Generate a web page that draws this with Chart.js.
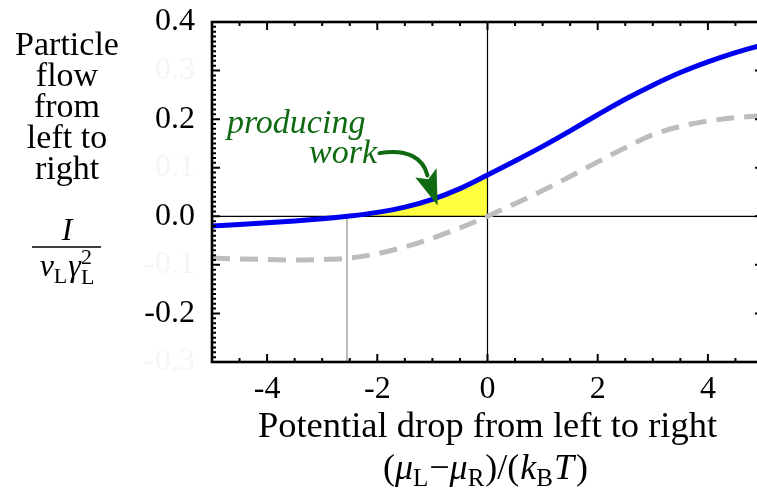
<!DOCTYPE html>
<html>
<head>
<meta charset="utf-8">
<script src="https://cdn.jsdelivr.net/npm/chart.js@4/dist/chart.umd.min.js"></script>
<style>
  html, body { margin: 0; padding: 0; background: #fff; overflow: hidden; }
  #wrap { width: 757px; height: 488px; overflow: hidden; position: relative; }
  canvas { display: block; }
</style>
</head>
<body>
<div id="wrap"><canvas id="c" width="765" height="488"></canvas></div>
<script>
// ---------------- data ----------------
const xValues        = [-5, -4.5, -4, -3.5, -3, -2.5, -2, -1.5, -1, -0.5, 0, 0.5, 1, 1.5, 2, 2.5, 3, 3.5, 4, 4.5, 5];
const flowValues     = [-0.020, -0.017, -0.0135, -0.0095, -0.005, 0.0005, 0.008, 0.019, 0.035, 0.057, 0.085, 0.114, 0.144, 0.176, 0.209, 0.241, 0.270, 0.296, 0.318, 0.337, 0.353];
const referenceValues= [-0.086, -0.088, -0.089, -0.090, -0.089, -0.086, -0.077, -0.063, -0.045, -0.024, 0.000, 0.026, 0.053, 0.082, 0.112, 0.141, 0.168, 0.185, 0.196, 0.203, 0.207];
const zeroCrossing   = -2.55;
const xTickValues    = [-4, -2, 0, 2, 4];
const xTickLabels    = ['-4', '-2', '0', '2', '4'];
const yTickValues    = [-0.3, -0.2, -0.1, 0, 0.1, 0.2, 0.3, 0.4];
const yTickLabels    = ['-0.3', '-0.2', '-0.1', '0.0', '0.1', '0.2', '0.3', '0.4'];
const yTickVisible   = [false, true, false, true, false, true, false, true];
const yTitleLines    = ['Particle', 'flow', 'from', 'left to', 'right'];
const xTitle         = 'Potential drop from left to right';
const noteLines      = ['producing', 'work'];
// annotation anchors in data units
const noteAnchors    = [{x: -4.73, y: 0.171}, {x: -3.24, y: 0.109}];
const arrowPath      = {start: {x: -1.96, y: 0.130}, c1: {x: -1.45, y: 0.140}, c2: {x: -1.16, y: 0.119}, end: {x: -1.09, y: 0.084}};
const arrowHead      = {tip: {x: -0.905, y: 0.022}, left: {x: -1.31, y: 0.080}, right: {x: -0.925, y: 0.099}};

// ---------------- build ----------------
const flowPts = xValues.map((x, i) => ({x, y: flowValues[i]}));
const refPts  = xValues.map((x, i) => ({x, y: referenceValues[i]}));
const workPts = [{x: zeroCrossing, y: 0}].concat(flowPts.filter(p => p.x > zeroCrossing && p.x <= 0));

const SERIF = '"Liberation Serif", "Times New Roman", serif';
const GREEN = '#0f6a12';

function drawRuns(ctx, runs, cx, base) {
  let w = 0;
  runs.forEach(r => { ctx.font = r.f; r.w = ctx.measureText(r.t).width; if (!r.stack) w += r.w + (r.sp || 0); });
  let x = cx - w / 2;
  ctx.textAlign = 'left'; ctx.textBaseline = 'alphabetic';
  runs.forEach(r => {
    ctx.font = r.f;
    ctx.fillText(r.t, x, base + (r.dy || 0));
    if (!r.stack) x += r.w + (r.sp || 0);
  });
}

const decor = {
  id: 'decor',
  beforeDatasetDraw(chart, args) {
    if (args.index !== 1) return;
    const {ctx, chartArea: a, scales: {x, y}} = chart;
    ctx.save();
    ctx.lineWidth = 1.2;
    ctx.strokeStyle = '#000';
    const y0 = y.getPixelForValue(0), x0 = x.getPixelForValue(0);
    ctx.beginPath(); ctx.moveTo(a.left, y0); ctx.lineTo(a.right, y0); ctx.stroke();
    ctx.beginPath(); ctx.moveTo(x0, a.top); ctx.lineTo(x0, a.bottom); ctx.stroke();
    ctx.strokeStyle = '#aaaaaa'; ctx.lineWidth = 1.6;
    const xc = x.getPixelForValue(zeroCrossing);
    ctx.beginPath(); ctx.moveTo(xc, y0); ctx.lineTo(xc, a.bottom); ctx.stroke();
    ctx.restore();
  },
  afterDraw(chart) {
    const {ctx, chartArea: a, scales: {x, y}} = chart;
    ctx.save();
    // frame
    ctx.strokeStyle = '#000'; ctx.lineWidth = 2.6;
    ctx.strokeRect(a.left, a.top, a.right - a.left, a.bottom - a.top);
    // ticks
    ctx.lineWidth = 2;
    for (let k = -30; k <= 40; k++) {
      const v = k / 100, py = y.getPixelForValue(v);
      const len = (k % 10 === 0) ? 8 : 4;
      ctx.beginPath();
      ctx.moveTo(a.left, py); ctx.lineTo(a.left + len, py);
      ctx.moveTo(a.right, py); ctx.lineTo(a.right - len, py);
      ctx.stroke();
    }
    for (let k = -10; k <= 10; k++) {
      const v = k / 2, px = x.getPixelForValue(v);
      const len = (k % 4 === 0) ? 8 : 4;
      ctx.beginPath();
      ctx.moveTo(px, a.bottom); ctx.lineTo(px, a.bottom - len);
      ctx.moveTo(px, a.top); ctx.lineTo(px, a.top + len);
      ctx.stroke();
    }
    // left title
    ctx.fillStyle = '#000';
    ctx.textAlign = 'center'; ctx.textBaseline = 'alphabetic';
    ctx.font = '34px ' + SERIF;
    yTitleLines.forEach((t, i) => ctx.fillText(t, 67, 55 + i * 31));
    // fraction I / (nu_L gamma_L^2)
    drawRuns(ctx, [{t: 'I', f: 'italic 32px ' + SERIF}], 67, 240);
    ctx.lineWidth = 1.5;
    ctx.beginPath(); ctx.moveTo(32, 247); ctx.lineTo(101, 247); ctx.stroke();
    drawRuns(ctx, [
      {t: '\u03BD', f: 'italic 32px ' + SERIF},
      {t: 'L', f: '22px ' + SERIF, dy: 7, sp: 1},
      {t: '\u03B3', f: 'italic 32px ' + SERIF},
      {t: '2', f: '22px ' + SERIF, dy: -12, stack: true},
      {t: 'L', f: '22px ' + SERIF, dy: 8}
    ], 67, 276);
    // x title
    ctx.font = '36.5px ' + SERIF;
    ctx.textAlign = 'center';
    ctx.fillText(xTitle, x.getPixelForValue(0), 437);
    drawRuns(ctx, [
      {t: '(', f: '36px ' + SERIF},
      {t: '\u03BC', f: 'italic 36px ' + SERIF},
      {t: 'L', f: '25px ' + SERIF, dy: 7, sp: 1},
      {t: '\u2212', f: '36px ' + SERIF},
      {t: '\u03BC', f: 'italic 36px ' + SERIF},
      {t: 'R', f: '25px ' + SERIF, dy: 7, sp: 1},
      {t: ')/(', f: '36px ' + SERIF, sp: 1},
      {t: 'k', f: 'italic 36px ' + SERIF},
      {t: 'B', f: '25px ' + SERIF, dy: 7, sp: 1},
      {t: 'T', f: 'italic 36px ' + SERIF, sp: 2},
      {t: ')', f: '36px ' + SERIF}
    ], x.getPixelForValue(0) - 2, 479);
    // annotation
    ctx.fillStyle = GREEN; ctx.strokeStyle = GREEN;
    ctx.font = 'italic 34px ' + SERIF; ctx.textAlign = 'left';
    noteLines.forEach((t, i) => ctx.fillText(t, x.getPixelForValue(noteAnchors[i].x), y.getPixelForValue(noteAnchors[i].y)));
    const P = p => [x.getPixelForValue(p.x), y.getPixelForValue(p.y)];
    const [sx, sy] = P(arrowPath.start), [c1x, c1y] = P(arrowPath.c1), [c2x, c2y] = P(arrowPath.c2), [ex, ey] = P(arrowPath.end);
    ctx.lineWidth = 4; ctx.lineCap = 'round';
    ctx.beginPath(); ctx.moveTo(sx, sy); ctx.bezierCurveTo(c1x, c1y, c2x, c2y, ex, ey); ctx.stroke();
    const [tx, ty] = P(arrowHead.tip), [lx, ly] = P(arrowHead.left), [rx, ry] = P(arrowHead.right);
    const nx = (lx + rx) / 2 + (tx - (lx + rx) / 2) * 0.2, ny = (ly + ry) / 2 + (ty - (ly + ry) / 2) * 0.2;
    ctx.beginPath(); ctx.moveTo(tx, ty); ctx.lineTo(lx, ly); ctx.lineTo(nx, ny); ctx.lineTo(rx, ry); ctx.closePath(); ctx.fill();
    ctx.restore();
  }
};

new Chart(document.getElementById('c'), {
  type: 'line',
  data: {
    datasets: [
      {label: 'flow', data: flowPts, borderColor: '#0000f0', borderWidth: 5, pointRadius: 0, cubicInterpolationMode: 'monotone', fill: false},
      {label: 'reference', data: refPts, borderColor: '#bdbdbd', borderWidth: 5, borderDash: [18, 10], pointRadius: 0, cubicInterpolationMode: 'monotone', fill: false},
      {label: 'work', data: workPts, borderWidth: 0, borderColor: 'rgba(0,0,0,0)', backgroundColor: '#ffff40', pointRadius: 0, cubicInterpolationMode: 'monotone', fill: 'origin'}
    ]
  },
  options: {
    responsive: false,
    animation: false,
    events: [],
    layout: {padding: {top: 22, right: 2, left: 0, bottom: 0}},
    plugins: {legend: {display: false}, tooltip: {enabled: false}},
    scales: {
      x: {
        type: 'linear', min: -5, max: 5,
        afterBuildTicks: s => { s.ticks = xTickValues.map(v => ({value: v})); },
        afterFit: s => { s.height = 126; s.paddingLeft = 0; s.paddingRight = 0; },
        grid: {display: false, drawTicks: false}, border: {display: false},
        ticks: {padding: 8, color: '#000', font: {family: SERIF, size: 32}, maxRotation: 0, autoSkip: false,
          callback: v => { const i = xTickValues.indexOf(v); return i >= 0 ? xTickLabels[i] : ''; }}
      },
      y: {
        type: 'linear', min: -0.3, max: 0.4,
        afterBuildTicks: s => { s.ticks = yTickValues.map(v => ({value: v})); },
        afterFit: s => { s.width = 212; s.paddingTop = 0; s.paddingBottom = 0; },
        grid: {display: false, drawTicks: false}, border: {display: false},
        ticks: {padding: 17, font: {family: SERIF, size: 32}, autoSkip: false,
          color: c => { const i = yTickValues.findIndex(v => Math.abs(v - c.tick.value) < 1e-9); return yTickVisible[i] ? '#000' : '#f5f5f5'; },
          callback: v => { const i = yTickValues.findIndex(t => Math.abs(t - v) < 1e-9); return i >= 0 ? yTickLabels[i] : ''; }}
      }
    }
  },
  plugins: [decor]
});
</script>
</body>
</html>
